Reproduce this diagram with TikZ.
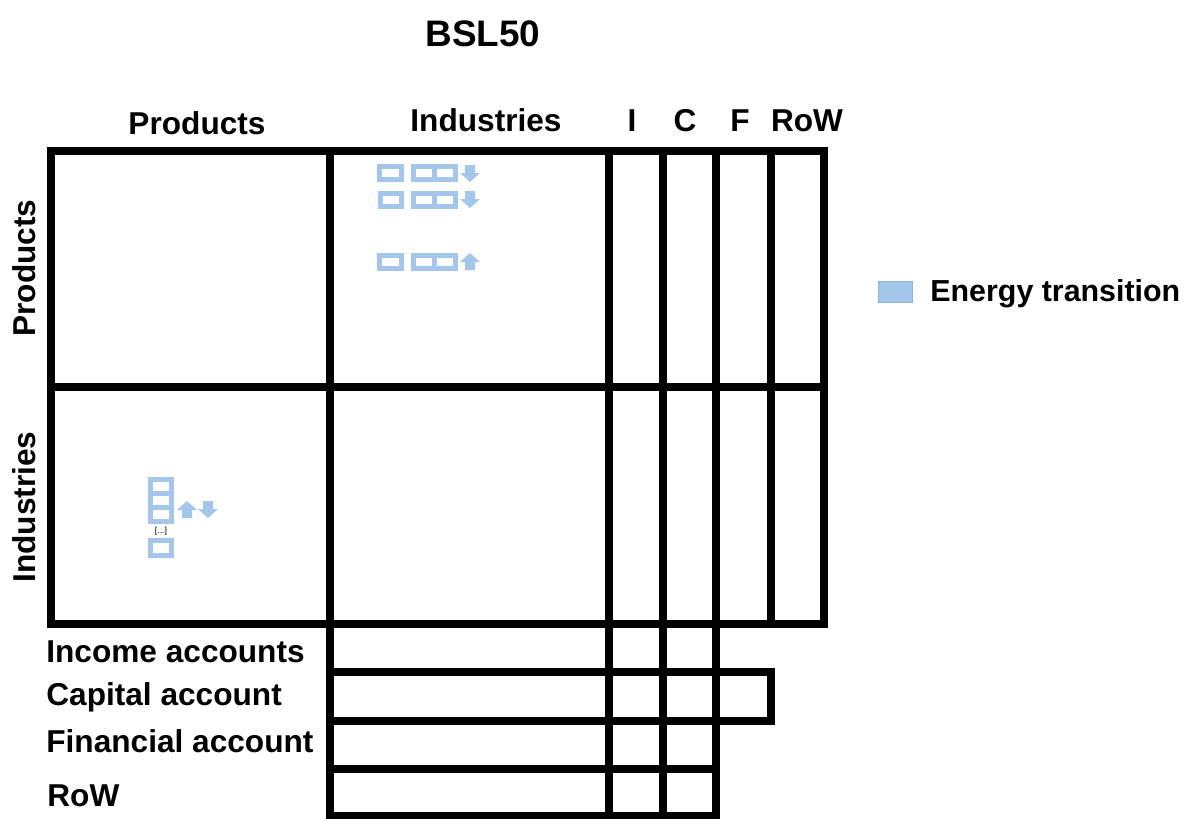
\documentclass[tikz,border=0pt]{standalone}
\usepackage{fontspec}
\setmainfont{Liberation Sans}
\definecolor{etblue}{HTML}{A4C6EA}
\definecolor{etedge}{HTML}{8DB3DC}

% block arrows for the energy transition markers
\newcommand{\etdown}[1]{\fill[etblue, shift={#1}] (0,0) -- (-10,-9) -- (-5,-9) -- (-5,-17) -- (5,-17) -- (5,-9) -- (10,-9) -- cycle;}
\newcommand{\etup}[1]{\fill[etblue, shift={#1}] (0,0) -- (-10,9) -- (-5,9) -- (-5,17) -- (5,17) -- (5,9) -- (10,9) -- cycle;}

\begin{document}
\begin{tikzpicture}[x=0.02cm, y=-0.02cm,
  gridline/.style={line width=0.16cm, line join=miter},
  head/.style={font=\fontsize{18}{21}\selectfont\bfseries, anchor=base},
  rowlabel/.style={font=\fontsize{18}{21}\selectfont\bfseries, anchor=base west, inner sep=0pt},
  etcell/.style={draw=etblue, line width=0.1cm, fill=white}]

\useasboundingbox (0,0) rectangle (1186,818);

% Title
\node[head, font=\fontsize{21}{24}\selectfont\bfseries] (title) at (483,46) {BSL50};

% Column heads
\node[head] (colprod) at (197,134) {Products};
\node[head] (colind) at (486,131) {Industries};
\node[head] (colI) at (632,131) {I};
\node[head] (colC) at (685,131) {C};
\node[head] (colF) at (740,131) {F};
\node[head] (colrow) at (807,131) {RoW};

% Row heads
\node[head, rotate=90] (rowprod) at (35,268) {Products};
\node[head, rotate=90] (rowind) at (35,507) {Industries};

% Main block: products and industries
\draw[gridline] (51,151) rectangle (824,624);
\draw[gridline] (51,387) -- (824,387);
\foreach \x in {330,609,663,716,771}
  \draw[gridline] (\x,151) -- (\x,624);

% Accounts below
\draw[gridline] (330,624) rectangle (716,672);
\draw[gridline] (330,672) rectangle (771,721);
\draw[gridline] (330,721) rectangle (716,769);
\draw[gridline] (330,769) rectangle (716,816);
\foreach \x in {609,663,716}
  \draw[gridline] (\x,624) -- (\x,816);

\node[rowlabel] (income) at (46,662) {Income accounts};
\node[rowlabel] (capital) at (46,705) {Capital account};
\node[rowlabel] (financial) at (46,752) {Financial account};
\node[rowlabel] (rowacc) at (47,806) {RoW};

% Energy transition markers, products x industries
\draw[etcell] (379,166) rectangle (401,179);
\draw[etcell] (413,166) rectangle (455,179);
\draw[etblue, line width=0.1cm] (434,166) -- (434,179);
\etdown{(470,182)}

\draw[etcell] (380,193) rectangle (401,206);
\draw[etcell] (413,193) rectangle (455,206);
\draw[etblue, line width=0.1cm] (434,193) -- (434,206);
\etdown{(470,208)}

\draw[etcell] (379,255) rectangle (401,268);
\draw[etcell] (413,255) rectangle (455,268);
\draw[etblue, line width=0.1cm] (434,255) -- (434,268);
\etup{(470,253)}

% Energy transition markers, industries x products
\draw[etcell] (150,479) rectangle (171,521);
\draw[etblue, line width=0.1cm] (150,493) -- (171,493);
\draw[etblue, line width=0.1cm] (150,507) -- (171,507);
\node[font=\fontsize{5}{6}\selectfont, inner sep=0pt] (dots) at (161,531) {[...]};
\draw[etcell] (150,540) rectangle (171,555);
\etup{(187,501)}
\etdown{(208,518)}

% Legend
\node[draw=etedge, fill=etblue, line width=0.4pt, minimum width=0.68cm,
      minimum height=0.42cm, inner sep=0pt] (legbox) at (895,291.5) {};
\node[rowlabel, font=\fontsize{17.3}{20}\selectfont\bfseries] (legtext) at (930,301) {Energy transition};

\end{tikzpicture}
\end{document}
